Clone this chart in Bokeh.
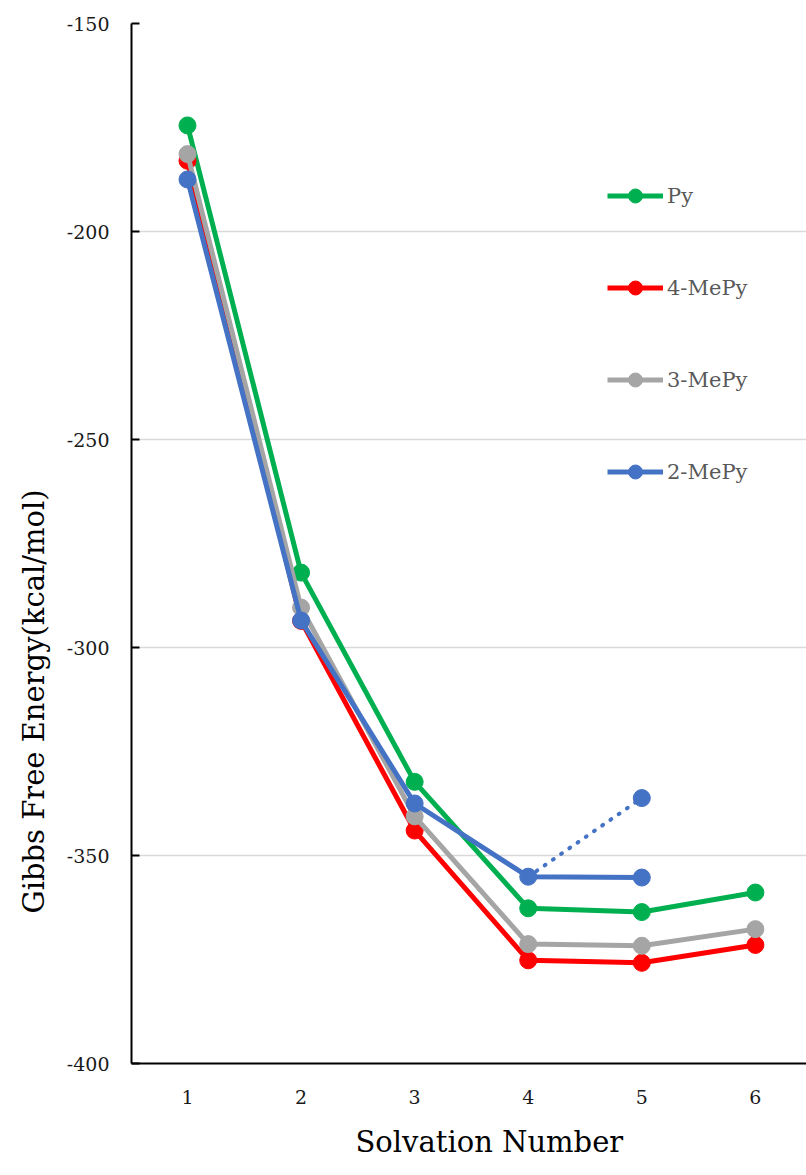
from bokeh.plotting import figure
from bokeh.models import Legend, LegendItem, FixedTicker, Range1d, Title, CustomJSTickFormatter
from bokeh.embed import file_html
from bokeh.resources import INLINE

solv = [1, 2, 3, 4, 5, 6]
py = [-174.5, -282.0, -332.3, -362.7, -363.6, -358.9]
me4 = [-183.0, -293.6, -344.0, -375.2, -375.8, -371.5]
me3 = [-181.4, -290.4, -340.6, -371.3, -371.7, -367.7]
me2_x = [1, 2, 3, 4, 5]
me2 = [-187.5, -293.5, -337.5, -355.1, -355.3]
me2_alt_x = [4, 5]
me2_alt = [-355.1, -336.2]
y_ticks = [-150, -200, -250, -300, -350, -400]
grid_ticks = [-200, -250, -300, -350]

FONT = "DejaVu Serif"

p = figure(width=806, height=1175, output_backend="svg", toolbar_location=None,
           x_range=Range1d(0.507, 6.45), y_range=Range1d(-400, -150),
           min_border_left=131, min_border_right=0, min_border_top=23, min_border_bottom=112)
p.outline_line_color = None
p.background_fill_color = "white"

p.xgrid.visible = False
p.ygrid.ticker = FixedTicker(ticks=grid_ticks)
p.ygrid.grid_line_color = "#d9d9d9"
p.ygrid.grid_line_width = 1.5

p.yaxis.ticker = FixedTicker(ticks=y_ticks)
p.xaxis.ticker = FixedTicker(ticks=solv)
fmt = CustomJSTickFormatter(code="return tick.toFixed(0);")
for ax in (p.xaxis[0], p.yaxis[0]):
    ax.formatter = fmt
    ax.axis_line_color = "black"
    ax.axis_line_width = 2
    ax.major_label_text_font = FONT
    ax.major_label_text_font_size = "19px"
    ax.major_label_text_color = "#1a1a1a"
    ax.minor_tick_line_color = None

p.xaxis.major_tick_line_color = None
p.xaxis.major_label_standoff = 20

p.yaxis.major_tick_in = 8
p.yaxis.major_tick_out = 0
p.yaxis.major_tick_line_color = "black"
p.yaxis.major_tick_line_width = 2
p.yaxis.major_label_standoff = 22

xt = Title(text="Solvation Number", align="left", offset=224, standoff=32,
           text_font=FONT, text_font_size="29px", text_font_style="normal", text_color="black")
p.add_layout(xt, "below")
yt = Title(text="Gibbs Free Energy(kcal/mol)", align="left", offset=150, standoff=25,
           text_font=FONT, text_font_size="29px", text_font_style="normal", text_color="black")
p.add_layout(yt, "left")

GREEN = "#00b050"
RED = "#ff0000"
GRAY = "#a5a5a5"
BLUE = "#4472c4"
LW = 5
MS = 17

p.line(me2_alt_x, me2_alt, line_color=BLUE, line_width=4, line_dash="1 9", line_cap="round")
p.scatter(me2_alt_x[1:], me2_alt[1:], size=MS, color=BLUE)

items = []
for xs, ys, col, name in [(solv, py, GREEN, "Py"), (solv, me4, RED, "4-MePy"),
                          (solv, me3, GRAY, "3-MePy"), (me2_x, me2, BLUE, "2-MePy")]:
    r1 = p.line(xs, ys, line_color=col, line_width=LW)
    r2 = p.scatter(xs, ys, size=MS, color=col)
    items.append(LegendItem(label=name, renderers=[r1, r2]))

leg = Legend(items=items, location=(476, 574), orientation="vertical",
             glyph_width=56, glyph_height=35, spacing=57, label_standoff=4,
             label_text_font=FONT, label_text_font_size="21px", label_text_color="#595959",
             background_fill_alpha=0, border_line_color=None, padding=0, margin=0)
p.add_layout(leg, "center")

open("out.html", "w").write(file_html(p, INLINE))
